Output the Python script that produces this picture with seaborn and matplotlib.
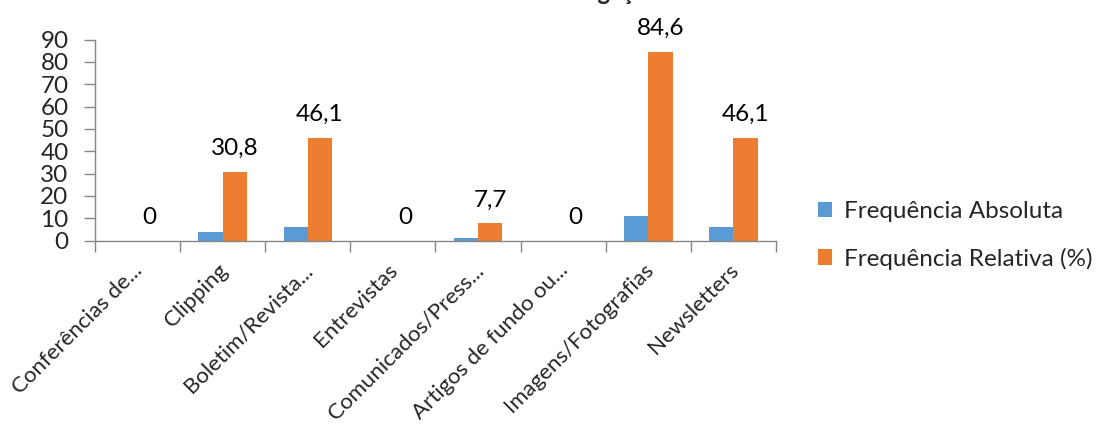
import matplotlib
matplotlib.use("Agg")
import matplotlib.pyplot as plt
import matplotlib.transforms as mtransforms
import seaborn as sns
import pandas as pd

# Categorias e valores das duas séries
categorias = ["Conferências de...", "Clipping", "Boletim/Revista...", "Entrevistas",
              "Comunicados/Press...", "Artigos de fundo ou...", "Imagens/Fotografias",
              "Newsletters"]
freq_absoluta = [0, 4, 6, 0, 1, 0, 11, 6]
freq_relativa = [0, 30.8, 46.1, 0, 7.7, 0, 84.6, 46.1]
series = ["Frequência Absoluta", "Frequência Relativa (%)"]
y_ticks = [0, 10, 20, 30, 40, 50, 60, 70, 80, 90]
titulo = "Ferramentas de divulgação"

FS = 17.5
FS_CAT = 16

sns.set_theme(style="white")
plt.rcParams["font.family"] = ["Lato", "DejaVu Sans"]

df = pd.DataFrame({
    "categoria": categorias * 2,
    "valor": freq_absoluta + freq_relativa,
    "serie": [series[0]] * len(categorias) + [series[1]] * len(categorias),
})

fig = plt.figure(figsize=(10.96, 4.28), dpi=100)
ax = fig.add_axes([95 / 1096, 1 - 240.5 / 428, (776 - 95) / 1096, (240.5 - 39.5) / 428])

sns.barplot(data=df, x="categoria", y="valor", hue="serie", order=categorias,
            hue_order=series, palette=["#5B9BD5", "#ED7D31"], width=0.57,
            saturation=1, ax=ax, errorbar=None, linewidth=0)

# Rótulos de dados apenas na série relativa
rel_container = ax.containers[1]
ax.bar_label(rel_container, labels=[f"{v:g}".replace(".", ",") for v in freq_relativa],
             padding=9, fontsize=FS, color="black")

ax.set_xlim(-0.5, len(categorias) - 0.5)
ax.set_ylim(0, 90)
ax.set_yticks(y_ticks)
ax.set_yticklabels([str(t) for t in y_ticks], fontsize=FS)
ax.set_xlabel("")
ax.set_ylabel("")

# Marcas do eixo x nas fronteiras entre categorias
ax.set_xticks([i - 0.5 for i in range(len(categorias) + 1)], minor=True)
ax.tick_params(axis="x", which="minor", length=8, color="#868686", width=1, direction="out", bottom=True)
ax.tick_params(axis="x", which="major", length=0, pad=19)
ax.tick_params(axis="y", length=8, color="#868686", width=1, direction="out", left=True, pad=11)
ax.set_xticks(range(len(categorias)))
ax.set_xticklabels(categorias, rotation=45, ha="right", va="center",
                   rotation_mode="anchor", fontsize=FS_CAT)
shift = mtransforms.ScaledTranslation(2 / 100, 0, fig.dpi_scale_trans)
for lbl in ax.get_xticklabels():
    lbl.set_transform(lbl.get_transform() + shift)

for s in ["top", "right"]:
    ax.spines[s].set_visible(False)
for s in ["left", "bottom"]:
    ax.spines[s].set_color("#868686")
    ax.spines[s].set_linewidth(1)

leg = ax.legend(loc="center left", bbox_to_anchor=(1.047, 0.025), frameon=False,
                fontsize=FS, handlelength=0.6, handleheight=0.6, handletextpad=0.5,
                labelspacing=1.05, borderaxespad=0)

fig.text(0.472, 1 + 0.5 / 428, titulo, ha="center", va="baseline", fontsize=17, fontweight="bold")

fig.savefig("out.png", dpi=100)
